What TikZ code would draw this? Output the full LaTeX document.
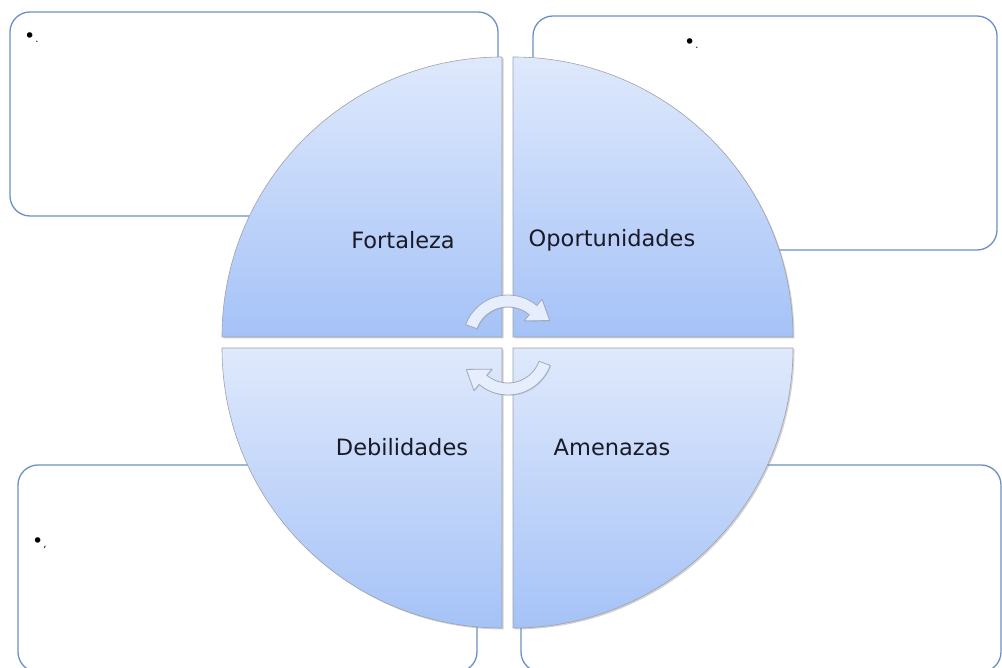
\documentclass[tikz,border=0pt]{standalone}
\usepackage{fontspec}
\setmainfont{DejaVu Sans}
\usetikzlibrary{shadows}
\definecolor{boxline}{HTML}{6B90C6}
\definecolor{qtop}{HTML}{DFE9FC}
\definecolor{qbot}{HTML}{A5C2F7}
\definecolor{qline}{HTML}{9EA2AA}
\definecolor{arrfill}{HTML}{E6EDFC}
\definecolor{arrline}{HTML}{A0AABA}
\definecolor{txt}{HTML}{1A1A26}
\newcommand{\bigbul}{{\fontsize{19}{20}\selectfont •}}
\newcommand{\smallpunct}[1]{{\fontsize{10}{12}\selectfont #1}}
\tikzset{
  infobox/.style={draw=boxline, line width=1.3pt, rounded corners=20pt, fill=white},
  quad/.style={draw=qline, line width=0.6pt, top color=qtop, bottom color=qbot,
    drop shadow={opacity=0.35, shadow xshift=1.5pt, shadow yshift=-1.5pt, fill=gray}},
  qlabel/.style={text=txt, font=\fontsize{22.5}{27}\selectfont, inner sep=0pt},
  bullettext/.style={text=black, anchor=base west, inner sep=0pt},
  cycarrow/.style={fill=arrfill, draw=arrline, line width=0.8pt, line join=round,
    drop shadow={opacity=0.25, shadow xshift=0.8pt, shadow yshift=-0.8pt, fill=gray}}
}
\begin{document}
\begin{tikzpicture}[x=1pt,y=1pt]
\useasboundingbox (0,0) rectangle (1002,668);
% boxes
\draw[infobox] (10,452) rectangle (498,656);
\draw[infobox] (533,418) rectangle (997,652);
\draw[infobox] (18,-4) rectangle (477,203);
\draw[infobox] (521,-4) rectangle (1001,203);
\node[bullettext] (t1) at (24,625) {\bigbul\smallpunct{.}};
\node[bullettext] (t2) at (684,619) {\bigbul\smallpunct{.}};
\node[bullettext] (t3) at (32,120) {\bigbul\smallpunct{,}};
% quadrants
\path[quad] (502,331) -- (222,331) arc[start angle=180, end angle=90, radius=280] -- cycle;
\path[quad] (513,331) -- (513,611) arc[start angle=90, end angle=0, radius=280] -- cycle;
\path[quad] (502,320) -- (502,40) arc[start angle=270, end angle=180, radius=280] -- cycle;
\path[quad] (513,320) -- (793,320) arc[start angle=0, end angle=-90, radius=280] -- cycle;
\node[qlabel] (f) at (403,428) {Fortaleza};
\node[qlabel] (o) at (612,428) {Oportunidades};
\node[qlabel] (d) at (402,221) {Debilidades};
\node[qlabel] (a) at (612,221) {Amenazas};
% cycle arrows
\begin{scope}[shift={(508,328)}]
\path[cycarrow] (160:45) arc[start angle=160, end angle=50, radius=45]
  -- (50:53) -- (25:46) -- (50:25) -- (50:33)
  arc[start angle=50, end angle=160, radius=33] -- cycle;
\end{scope}
\begin{scope}[shift={(508,318)}, rotate=180]
\path[cycarrow] (160:45) arc[start angle=160, end angle=50, radius=45]
  -- (50:53) -- (25:46) -- (50:25) -- (50:33)
  arc[start angle=50, end angle=160, radius=33] -- cycle;
\end{scope}
\end{tikzpicture}
\end{document}
